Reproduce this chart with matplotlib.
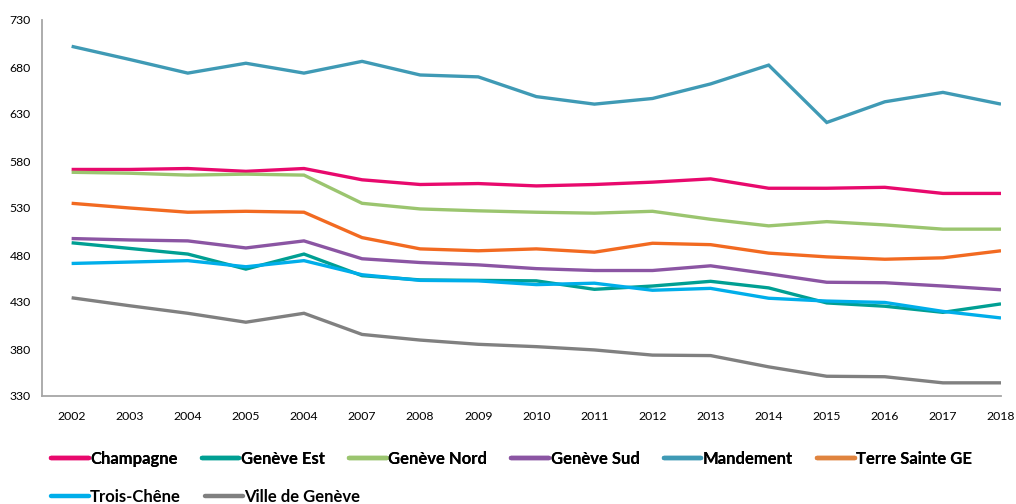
import matplotlib
matplotlib.use("Agg")
import matplotlib.pyplot as plt
from matplotlib.lines import Line2D

years = ["2002", "2003", "2004", "2005", "2004", "2007", "2008", "2009", "2010",
         "2011", "2012", "2013", "2014", "2015", "2016", "2017", "2018"]

champagne = [571, 571, 572, 569, 572, 560, 555, 556, 553.5, 555, 557.5, 561, 551, 551, 552, 545.5, 545.5]
geneve_est = [493, 487, 481, 465, 481, 458, 453.5, 453, 452.5, 443.5, 447, 452, 445, 429, 425.5, 419, 428]
geneve_nord = [568, 567, 565, 566, 565, 535, 529, 527, 525.5, 524.5, 526.5, 518, 511, 515.5, 512, 507.5, 507.5]
geneve_sud = [497.5, 496, 495, 487.5, 495, 476, 472, 469.5, 465.5, 463.5, 463.5, 468.5, 460, 451, 450.5, 447, 443]
mandement = [702, 688, 673.5, 684, 673.5, 686, 671.5, 669.5, 648.5, 640.5, 646.5, 662, 682, 621, 643, 653, 640.5]
terre_sainte = [535, 530, 525.5, 526.5, 525.5, 498.5, 486.5, 484.5, 486.5, 483, 492.5, 491, 482, 478, 475.5, 477, 484.5]
trois_chene = [471, 472.5, 474, 467.5, 474, 459, 453, 452.5, 448.5, 450, 442.5, 444.5, 434, 431, 429.5, 420, 413]
ville_geneve = [434.5, 426, 418, 408.5, 418, 395.5, 389.5, 385, 382.5, 379, 373.5, 373, 361, 351, 350.5, 344, 344]

series_names = ["Champagne", "Genève Est", "Genève Nord", "Genève Sud", "Mandement",
                "Terre Sainte GE", "Trois-Chêne", "Ville de Genève"]
series_values = [champagne, geneve_est, geneve_nord, geneve_sud, mandement,
                 terre_sainte, trois_chene, ville_geneve]
line_colors = ["#E8096D", "#009F93", "#9BC56F", "#8B55A3", "#3F9AB5",
               "#F26A21", "#00AEEA", "#808080"]
legend_colors = ["#E8096D", "#009F93", "#9BC56F", "#8B55A3", "#3F9AB5",
                 "#E0843F", "#00AEEA", "#808080"]

y_ticks = [330, 380, 430, 480, 530, 580, 630, 680, 730]

plt.rcParams['font.family'] = ['Lato', 'DejaVu Sans']

fig = plt.figure(figsize=(10.16, 5.04), dpi=100)
ax = fig.add_axes([42/1016, (504-396)/504, (1001-42)/1016, (396-20)/504])

x = list(range(len(years)))
for name, vals, c in zip(series_names, series_values, line_colors):
    ax.plot(x, vals, color=c, lw=2.4, solid_joinstyle='miter', solid_capstyle='butt', label=name)

ax.set_ylim(330, 730)
ax.set_xlim(-0.51, len(years) - 1)
ax.set_yticks(y_ticks)
ax.set_yticklabels([str(v) for v in y_ticks], fontsize=8.8)
ax.set_xticks(x)
ax.set_xticklabels(years, fontsize=8.8)
ax.tick_params(axis='both', length=0, colors='#000000')
ax.tick_params(axis='y', pad=8)
ax.tick_params(axis='x', pad=11)
for s in ['top', 'right']:
    ax.spines[s].set_visible(False)
for s in ['left', 'bottom']:
    ax.spines[s].set_color('#A6A6A6')
    ax.spines[s].set_linewidth(1.3)

handles = [Line2D([0], [0], color=c, lw=3.2, solid_capstyle='round') for c in legend_colors]

common = dict(loc='center left', frameon=False,
              prop={'weight': 'bold', 'size': 12}, handlelength=2.25,
              handletextpad=0.1, columnspacing=1.45, borderaxespad=0, borderpad=0)
leg1 = fig.legend(handles[:6], series_names[:6], ncol=6,
                  bbox_to_anchor=(51/1016, 1 - 459/504), **common)
fig.add_artist(leg1)
leg2 = fig.legend(handles[6:], series_names[6:], ncol=2,
                  bbox_to_anchor=(51/1016, 1 - 497/504), **common)

fig.savefig("out.png", dpi=100)
